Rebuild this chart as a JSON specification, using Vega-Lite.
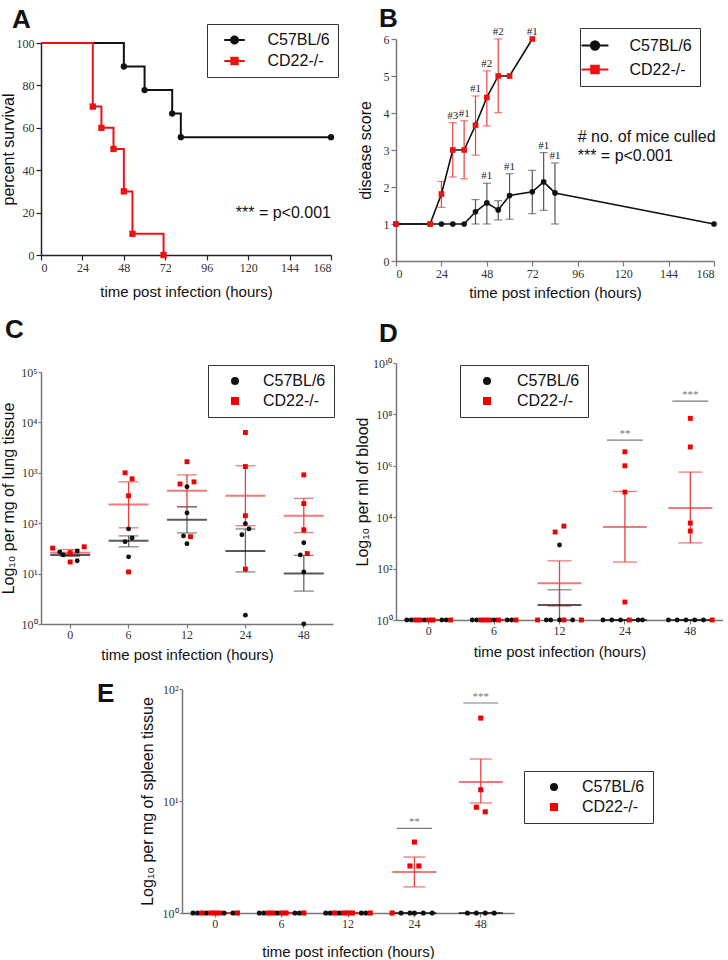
{
  "$schema": "https://vega.github.io/schema/vega-lite/v6.json",
  "background": "white",
  "padding": {"left": 0, "top": 6, "right": 0, "bottom": 0},
  "config": {
    "view": {"stroke": null},
    "axis": {"grid": false, "labelFont": "Liberation Serif", "labelFontSize": 12, "labelColor": "#333", "titleFont": "Liberation Sans", "titleFontWeight": "normal", "titleFontSize": 15, "titleColor": "#111", "domainColor": "#777", "tickColor": "#777", "domainWidth": 1.5, "tickWidth": 1.2},
    "title": {"font": "Liberation Sans", "fontSize": 26, "fontWeight": "bold", "anchor": "start", "frame": "group", "color": "#111", "offset": 0, "baseline": "alphabetic"}
  },
  "datasets": {
    "survival": [
      {"strain": "C57BL/6", "t": 0, "pct": 100},
      {"strain": "C57BL/6", "t": 48, "pct": 88.9},
      {"strain": "C57BL/6", "t": 60, "pct": 77.8},
      {"strain": "C57BL/6", "t": 76, "pct": 66.7},
      {"strain": "C57BL/6", "t": 81, "pct": 55.6},
      {"strain": "C57BL/6", "t": 168, "pct": 55.6},
      {"strain": "CD22-/-", "t": 0, "pct": 100},
      {"strain": "CD22-/-", "t": 30, "pct": 70},
      {"strain": "CD22-/-", "t": 35, "pct": 60},
      {"strain": "CD22-/-", "t": 42, "pct": 50},
      {"strain": "CD22-/-", "t": 48, "pct": 30},
      {"strain": "CD22-/-", "t": 53, "pct": 10},
      {"strain": "CD22-/-", "t": 71, "pct": 0}
    ],
    "survivalNote": [
      {"note": "*** = p<0.001", "t": 168, "pct": 20}
    ],
    "score": [
      {"strain": "C57BL/6", "t": 0, "score": 1},
      {"strain": "C57BL/6", "t": 18, "score": 1},
      {"strain": "C57BL/6", "t": 24, "score": 1},
      {"strain": "C57BL/6", "t": 30, "score": 1},
      {"strain": "C57BL/6", "t": 36, "score": 1},
      {"strain": "C57BL/6", "t": 42, "score": 1.33, "lo": 1.0, "hi": 1.66},
      {"strain": "C57BL/6", "t": 48, "score": 1.57, "lo": 1.0, "hi": 2.1},
      {"strain": "C57BL/6", "t": 54, "score": 1.38, "lo": 1.11, "hi": 1.63},
      {"strain": "C57BL/6", "t": 60, "score": 1.77, "lo": 1.13, "hi": 2.36},
      {"strain": "C57BL/6", "t": 72, "score": 1.87, "lo": 1.28, "hi": 2.45},
      {"strain": "C57BL/6", "t": 78, "score": 2.14, "lo": 1.37, "hi": 2.93},
      {"strain": "C57BL/6", "t": 84, "score": 1.84, "lo": 1.0, "hi": 2.65},
      {"strain": "C57BL/6", "t": 168, "score": 1},
      {"strain": "CD22-/-", "t": 0, "score": 1},
      {"strain": "CD22-/-", "t": 18, "score": 1},
      {"strain": "CD22-/-", "t": 24, "score": 1.81, "lo": 1.45, "hi": 2.15},
      {"strain": "CD22-/-", "t": 30, "score": 3.0, "lo": 2.27, "hi": 3.74},
      {"strain": "CD22-/-", "t": 36, "score": 3.0, "lo": 2.22, "hi": 3.79},
      {"strain": "CD22-/-", "t": 42, "score": 3.67, "lo": 2.86, "hi": 4.46},
      {"strain": "CD22-/-", "t": 48, "score": 4.42, "lo": 3.65, "hi": 5.14},
      {"strain": "CD22-/-", "t": 54, "score": 5.0, "lo": 4.01, "hi": 6.0},
      {"strain": "CD22-/-", "t": 60, "score": 5.0},
      {"strain": "CD22-/-", "t": 72, "score": 6.0}
    ],
    "scoreNotes": [
      {"note": "# no. of mice culled", "t": 96, "score": 3.34},
      {"note": "*** = p<0.001", "t": 96, "score": 2.83}
    ],
    "culled": [
      {"strain": "CD22-/-", "t": 30, "top": 3.74, "label": "#3"},
      {"strain": "CD22-/-", "t": 36, "top": 3.79, "label": "#1"},
      {"strain": "CD22-/-", "t": 42, "top": 4.46, "label": "#1"},
      {"strain": "CD22-/-", "t": 48, "top": 5.14, "label": "#2"},
      {"strain": "CD22-/-", "t": 54, "top": 6.0, "label": "#2"},
      {"strain": "CD22-/-", "t": 72, "top": 6.0, "label": "#1"},
      {"strain": "C57BL/6", "t": 48, "top": 2.1, "label": "#1"},
      {"strain": "C57BL/6", "t": 60, "top": 2.36, "label": "#1"},
      {"strain": "C57BL/6", "t": 78, "top": 2.93, "label": "#1"},
      {"strain": "C57BL/6", "t": 84, "top": 2.65, "label": "#1"}
    ],
    "lung": [
      {"strain": "C57BL/6", "t": 0, "slot": -3, "v": 27},
      {"strain": "C57BL/6", "t": 0, "slot": -2, "v": 23.5},
      {"strain": "C57BL/6", "t": 0, "slot": 2, "v": 28},
      {"strain": "C57BL/6", "t": 0, "slot": 2, "v": 18},
      {"strain": "C57BL/6", "t": 6, "slot": 0, "v": 77},
      {"strain": "C57BL/6", "t": 6, "slot": -1, "v": 43},
      {"strain": "C57BL/6", "t": 6, "slot": 1, "v": 51},
      {"strain": "C57BL/6", "t": 6, "slot": 0, "v": 21.5},
      {"strain": "C57BL/6", "t": 12, "slot": 0, "v": 530},
      {"strain": "C57BL/6", "t": 12, "slot": 0, "v": 160},
      {"strain": "C57BL/6", "t": 12, "slot": -1, "v": 56},
      {"strain": "C57BL/6", "t": 12, "slot": 0, "v": 39},
      {"strain": "C57BL/6", "t": 24, "slot": 0, "v": 98},
      {"strain": "C57BL/6", "t": 24, "slot": -1, "v": 59},
      {"strain": "C57BL/6", "t": 24, "slot": 1, "v": 77},
      {"strain": "C57BL/6", "t": 24, "slot": 0, "v": 1.5},
      {"strain": "C57BL/6", "t": 48, "slot": 0, "v": 41},
      {"strain": "C57BL/6", "t": 48, "slot": -1, "v": 23.5},
      {"strain": "C57BL/6", "t": 48, "slot": 0, "v": 10.8},
      {"strain": "C57BL/6", "t": 48, "slot": 0, "v": 1},
      {"strain": "CD22-/-", "t": 0, "slot": -5, "v": 32},
      {"strain": "CD22-/-", "t": 0, "slot": 4, "v": 34},
      {"strain": "CD22-/-", "t": 0, "slot": 0, "v": 17},
      {"strain": "CD22-/-", "t": 0, "slot": 0, "v": 26},
      {"strain": "CD22-/-", "t": 6, "slot": -1, "v": 1000},
      {"strain": "CD22-/-", "t": 6, "slot": 1, "v": 760},
      {"strain": "CD22-/-", "t": 6, "slot": 0, "v": 350},
      {"strain": "CD22-/-", "t": 6, "slot": 0, "v": 10.8},
      {"strain": "CD22-/-", "t": 12, "slot": 0, "v": 1660},
      {"strain": "CD22-/-", "t": 12, "slot": -2, "v": 600},
      {"strain": "CD22-/-", "t": 12, "slot": 2, "v": 660},
      {"strain": "CD22-/-", "t": 12, "slot": 1, "v": 54},
      {"strain": "CD22-/-", "t": 24, "slot": 0, "v": 6300},
      {"strain": "CD22-/-", "t": 24, "slot": 0, "v": 1330},
      {"strain": "CD22-/-", "t": 24, "slot": 0, "v": 141},
      {"strain": "CD22-/-", "t": 24, "slot": 0, "v": 12.3},
      {"strain": "CD22-/-", "t": 48, "slot": 0, "v": 910},
      {"strain": "CD22-/-", "t": 48, "slot": 0, "v": 245},
      {"strain": "CD22-/-", "t": 48, "slot": 0, "v": 74},
      {"strain": "CD22-/-", "t": 48, "slot": 1, "v": 25}
    ],
    "lungStats": [
      {"strain": "C57BL/6", "t": 0, "mean": 23.5, "lo": 22, "hi": 25.5},
      {"strain": "C57BL/6", "t": 6, "mean": 45, "lo": 34, "hi": 56},
      {"strain": "C57BL/6", "t": 12, "mean": 117, "lo": 64, "hi": 213},
      {"strain": "C57BL/6", "t": 24, "mean": 28, "lo": 10.8, "hi": 77},
      {"strain": "C57BL/6", "t": 48, "mean": 10, "lo": 4.5, "hi": 23},
      {"strain": "CD22-/-", "t": 0, "mean": 26, "lo": 23, "hi": 30},
      {"strain": "CD22-/-", "t": 6, "mean": 234, "lo": 81, "hi": 660},
      {"strain": "CD22-/-", "t": 12, "mean": 440, "lo": 210, "hi": 910},
      {"strain": "CD22-/-", "t": 24, "mean": 350, "lo": 89, "hi": 1380},
      {"strain": "CD22-/-", "t": 48, "mean": 141, "lo": 65, "hi": 310}
    ],
    "blood": [
      {"strain": "C57BL/6", "t": 0, "slot": -5, "v": 1},
      {"strain": "C57BL/6", "t": 0, "slot": -4, "v": 1},
      {"strain": "C57BL/6", "t": 0, "slot": -1, "v": 1},
      {"strain": "C57BL/6", "t": 0, "slot": 3, "v": 1},
      {"strain": "C57BL/6", "t": 0, "slot": 4, "v": 1},
      {"strain": "C57BL/6", "t": 6, "slot": -5, "v": 1},
      {"strain": "C57BL/6", "t": 6, "slot": -4, "v": 1},
      {"strain": "C57BL/6", "t": 6, "slot": 0, "v": 1},
      {"strain": "C57BL/6", "t": 6, "slot": 3, "v": 1},
      {"strain": "C57BL/6", "t": 6, "slot": 4, "v": 1},
      {"strain": "C57BL/6", "t": 12, "slot": -3, "v": 1},
      {"strain": "C57BL/6", "t": 12, "slot": -2, "v": 1},
      {"strain": "C57BL/6", "t": 12, "slot": 0, "v": 1},
      {"strain": "C57BL/6", "t": 12, "slot": 3, "v": 1},
      {"strain": "C57BL/6", "t": 12, "slot": 0, "v": 830},
      {"strain": "C57BL/6", "t": 24, "slot": -5, "v": 1},
      {"strain": "C57BL/6", "t": 24, "slot": -3, "v": 1},
      {"strain": "C57BL/6", "t": 24, "slot": -1, "v": 1},
      {"strain": "C57BL/6", "t": 24, "slot": 3, "v": 1},
      {"strain": "C57BL/6", "t": 24, "slot": 4, "v": 1},
      {"strain": "C57BL/6", "t": 48, "slot": -5, "v": 1},
      {"strain": "C57BL/6", "t": 48, "slot": -3, "v": 1},
      {"strain": "C57BL/6", "t": 48, "slot": -1, "v": 1},
      {"strain": "C57BL/6", "t": 48, "slot": 1, "v": 1},
      {"strain": "C57BL/6", "t": 48, "slot": 3, "v": 1},
      {"strain": "CD22-/-", "t": 0, "slot": -3, "v": 1},
      {"strain": "CD22-/-", "t": 0, "slot": -2, "v": 1},
      {"strain": "CD22-/-", "t": 0, "slot": 0, "v": 1},
      {"strain": "CD22-/-", "t": 0, "slot": 1, "v": 1},
      {"strain": "CD22-/-", "t": 0, "slot": 5, "v": 1},
      {"strain": "CD22-/-", "t": 6, "slot": -3, "v": 1},
      {"strain": "CD22-/-", "t": 6, "slot": -2, "v": 1},
      {"strain": "CD22-/-", "t": 6, "slot": -1, "v": 1},
      {"strain": "CD22-/-", "t": 6, "slot": 1, "v": 1},
      {"strain": "CD22-/-", "t": 6, "slot": 5, "v": 1},
      {"strain": "CD22-/-", "t": 12, "slot": -5, "v": 1},
      {"strain": "CD22-/-", "t": 12, "slot": 1, "v": 1},
      {"strain": "CD22-/-", "t": 12, "slot": 5, "v": 1},
      {"strain": "CD22-/-", "t": 12, "slot": -1, "v": 2650},
      {"strain": "CD22-/-", "t": 12, "slot": 1, "v": 4500},
      {"strain": "CD22-/-", "t": 24, "slot": 1, "v": 1},
      {"strain": "CD22-/-", "t": 24, "slot": 0, "v": 3500000},
      {"strain": "CD22-/-", "t": 24, "slot": 0, "v": 1000000},
      {"strain": "CD22-/-", "t": 24, "slot": 0, "v": 95000},
      {"strain": "CD22-/-", "t": 24, "slot": 0, "v": 5},
      {"strain": "CD22-/-", "t": 48, "slot": 5, "v": 1},
      {"strain": "CD22-/-", "t": 48, "slot": 0, "v": 70000000},
      {"strain": "CD22-/-", "t": 48, "slot": 0, "v": 5400000},
      {"strain": "CD22-/-", "t": 48, "slot": 0, "v": 5900},
      {"strain": "CD22-/-", "t": 48, "slot": 0, "v": 2900}
    ],
    "bloodStats": [
      {"strain": "C57BL/6", "t": 0, "mean": 1, "lo": 1, "hi": 1},
      {"strain": "C57BL/6", "t": 6, "mean": 1, "lo": 1, "hi": 1},
      {"strain": "C57BL/6", "t": 12, "mean": 3.8, "lo": 1, "hi": 15},
      {"strain": "C57BL/6", "t": 24, "mean": 1, "lo": 1, "hi": 1},
      {"strain": "C57BL/6", "t": 48, "mean": 1, "lo": 1, "hi": 1},
      {"strain": "CD22-/-", "t": 0, "mean": 1, "lo": 1, "hi": 1},
      {"strain": "CD22-/-", "t": 6, "mean": 1, "lo": 1, "hi": 1},
      {"strain": "CD22-/-", "t": 12, "mean": 27, "lo": 3.5, "hi": 200},
      {"strain": "CD22-/-", "t": 24, "mean": 4200, "lo": 180, "hi": 100000},
      {"strain": "CD22-/-", "t": 48, "mean": 23000, "lo": 1000, "hi": 570000}
    ],
    "bloodSig": [
      {"t": 24, "v": 10000000, "stars": "**"},
      {"t": 48, "v": 330000000, "stars": "***"}
    ],
    "spleen": [
      {"strain": "C57BL/6", "t": 0, "slot": -5, "v": 1},
      {"strain": "C57BL/6", "t": 0, "slot": -4, "v": 1},
      {"strain": "C57BL/6", "t": 0, "slot": -2, "v": 1},
      {"strain": "C57BL/6", "t": 0, "slot": 2, "v": 1},
      {"strain": "C57BL/6", "t": 0, "slot": 4, "v": 1},
      {"strain": "C57BL/6", "t": 6, "slot": -5, "v": 1},
      {"strain": "C57BL/6", "t": 6, "slot": -4, "v": 1},
      {"strain": "C57BL/6", "t": 6, "slot": -1, "v": 1},
      {"strain": "C57BL/6", "t": 6, "slot": 3, "v": 1},
      {"strain": "C57BL/6", "t": 6, "slot": 4, "v": 1},
      {"strain": "C57BL/6", "t": 12, "slot": -5, "v": 1},
      {"strain": "C57BL/6", "t": 12, "slot": -4, "v": 1},
      {"strain": "C57BL/6", "t": 12, "slot": -2, "v": 1},
      {"strain": "C57BL/6", "t": 12, "slot": 3, "v": 1},
      {"strain": "C57BL/6", "t": 12, "slot": 4, "v": 1},
      {"strain": "C57BL/6", "t": 24, "slot": -3, "v": 1},
      {"strain": "C57BL/6", "t": 24, "slot": -1, "v": 1},
      {"strain": "C57BL/6", "t": 24, "slot": 0, "v": 1},
      {"strain": "C57BL/6", "t": 24, "slot": 2, "v": 1},
      {"strain": "C57BL/6", "t": 24, "slot": 4, "v": 1},
      {"strain": "C57BL/6", "t": 48, "slot": -3, "v": 1},
      {"strain": "C57BL/6", "t": 48, "slot": -1, "v": 1},
      {"strain": "C57BL/6", "t": 48, "slot": 1, "v": 1},
      {"strain": "C57BL/6", "t": 48, "slot": 3, "v": 1},
      {"strain": "CD22-/-", "t": 0, "slot": -3, "v": 1},
      {"strain": "CD22-/-", "t": 0, "slot": -1, "v": 1},
      {"strain": "CD22-/-", "t": 0, "slot": 0, "v": 1},
      {"strain": "CD22-/-", "t": 0, "slot": 1, "v": 1},
      {"strain": "CD22-/-", "t": 0, "slot": 5, "v": 1},
      {"strain": "CD22-/-", "t": 6, "slot": -3, "v": 1},
      {"strain": "CD22-/-", "t": 6, "slot": -2, "v": 1},
      {"strain": "CD22-/-", "t": 6, "slot": 0, "v": 1},
      {"strain": "CD22-/-", "t": 6, "slot": 1, "v": 1},
      {"strain": "CD22-/-", "t": 6, "slot": 5, "v": 1},
      {"strain": "CD22-/-", "t": 12, "slot": -3, "v": 1},
      {"strain": "CD22-/-", "t": 12, "slot": -1, "v": 1},
      {"strain": "CD22-/-", "t": 12, "slot": 0, "v": 1},
      {"strain": "CD22-/-", "t": 12, "slot": 1, "v": 1},
      {"strain": "CD22-/-", "t": 12, "slot": 5, "v": 1},
      {"strain": "CD22-/-", "t": 24, "slot": -5, "v": 1},
      {"strain": "CD22-/-", "t": 24, "slot": 0, "v": 4.3},
      {"strain": "CD22-/-", "t": 24, "slot": -1, "v": 2.63},
      {"strain": "CD22-/-", "t": 24, "slot": 1, "v": 2.63},
      {"strain": "CD22-/-", "t": 48, "slot": 0, "v": 55},
      {"strain": "CD22-/-", "t": 48, "slot": 0, "v": 12.6},
      {"strain": "CD22-/-", "t": 48, "slot": -1, "v": 8.8},
      {"strain": "CD22-/-", "t": 48, "slot": 1, "v": 8.0}
    ],
    "spleenStats": [
      {"strain": "C57BL/6", "t": 0, "mean": 1, "lo": 1, "hi": 1},
      {"strain": "C57BL/6", "t": 6, "mean": 1, "lo": 1, "hi": 1},
      {"strain": "C57BL/6", "t": 12, "mean": 1, "lo": 1, "hi": 1},
      {"strain": "C57BL/6", "t": 24, "mean": 1, "lo": 1, "hi": 1},
      {"strain": "C57BL/6", "t": 48, "mean": 1, "lo": 1, "hi": 1},
      {"strain": "CD22-/-", "t": 0, "mean": 1, "lo": 1, "hi": 1},
      {"strain": "CD22-/-", "t": 6, "mean": 1, "lo": 1, "hi": 1},
      {"strain": "CD22-/-", "t": 12, "mean": 1, "lo": 1, "hi": 1},
      {"strain": "CD22-/-", "t": 24, "mean": 2.32, "lo": 1.71, "hi": 3.16},
      {"strain": "CD22-/-", "t": 48, "mean": 14.8, "lo": 9.6, "hi": 23.7}
    ],
    "spleenSig": [
      {"t": 24, "v": 5.7, "stars": "**"},
      {"t": 48, "v": 75, "stars": "***"}
    ]
  },
  "columns": 2,
  "align": {"row": "each", "column": "each"},
  "bounds": "flush",
  "spacing": {"row": 65, "column": 63},
  "resolve": {"scale": {"color": "independent", "shape": "independent", "stroke": "independent", "xOffset": "independent", "x": "independent", "y": "independent"}, "legend": {"color": "independent", "shape": "independent", "stroke": "independent"}},
  "concat": [
    {
      "width": 290, "height": 216,
      "title": {"text": "A", "dx": -29, "dy": 13},
      "data": {"name": "survival"},
      "resolve": {"scale": {"color": "independent", "shape": "independent", "stroke": "independent"}},
      "encoding": {
        "x": {"field": "t", "type": "quantitative", "scale": {"domain": [0, 168], "nice": false, "zero": false}, "axis": {"values": [0, 24, 48, 72, 96, 120, 144, 168], "title": "time post infection (hours)", "domainColor": "#222", "tickColor": "#222", "tickSize": 5, "labelPadding": 2, "titleY": 29}},
        "y": {"field": "pct", "type": "quantitative", "scale": {"domain": [0, 100], "nice": false, "range": [216, 4]}, "axis": {"values": [0, 20, 40, 60, 80, 100], "title": "percent survival", "titleFontSize": 16, "domainColor": "#222", "tickColor": "#222", "tickSize": 5, "labelPadding": 2, "titlePadding": 0}}
      },
      "layer": [
        {
          "mark": {"type": "line", "interpolate": "step-after", "strokeWidth": 2},
          "encoding": {"color": {"field": "strain", "type": "nominal", "scale": {"domain": ["C57BL/6", "CD22-/-"], "range": ["#111111", "#ee1111"]}, "legend": null}}
        },
        {
          "transform": [{"filter": "datum.t > 0"}],
          "mark": {"type": "point", "filled": true, "opacity": 1, "size": 40},
          "encoding": {
            "color": {"field": "strain", "type": "nominal", "scale": {"domain": ["C57BL/6", "CD22-/-"], "range": ["#111111", "#ee1111"]}, "legend": null},
            "shape": {"field": "strain", "type": "nominal", "scale": {"domain": ["C57BL/6", "CD22-/-"], "range": ["circle", "square"]}, "legend": null}
          }
        },
        {
          "transform": [{"filter": "false"}],
          "mark": {"type": "point", "filled": true},
          "encoding": {
            "color": {"field": "strain", "type": "nominal", "scale": {"domain": ["C57BL/6", "CD22-/-"], "range": ["#111111", "#ee1111"]}, "legend": {"title": null, "orient": "none", "legendX": 166, "legendY": -15, "padding": 8, "strokeColor": "#333", "fillColor": "white", "symbolSize": 164, "symbolStrokeWidth": 2, "symbolOffset": 11.5, "labelOffset": 25, "rowPadding": 5, "labelFontSize": 16, "labelFont": "Liberation Sans", "labelColor": "#111", "symbolOpacity": 1}},
            "stroke": {"field": "strain", "type": "nominal", "scale": {"domain": ["C57BL/6", "CD22-/-"], "range": ["#111111", "#ee1111"]}, "legend": {"title": null, "orient": "none", "legendX": 166, "legendY": -15, "padding": 8, "strokeColor": "#333", "fillColor": "white", "symbolSize": 164, "symbolStrokeWidth": 2, "symbolOffset": 11.5, "labelOffset": 25, "rowPadding": 5, "labelFontSize": 16, "labelFont": "Liberation Sans", "labelColor": "#111", "symbolOpacity": 1}},
            "shape": {"field": "strain", "type": "nominal", "scale": {"domain": ["C57BL/6", "CD22-/-"], "range": ["M-1.6,0L1.6,0M0.55,0A0.55,0.55,0,1,1,-0.55,0A0.55,0.55,0,1,1,0.55,0Z", "M-1.6,0L1.6,0M-0.5,-0.5L0.5,-0.5L0.5,0.5L-0.5,0.5Z"]}, "legend": {"title": null, "orient": "none", "legendX": 166, "legendY": -15, "padding": 8, "strokeColor": "#333", "fillColor": "white", "symbolSize": 164, "symbolStrokeWidth": 2, "symbolOffset": 11.5, "labelOffset": 25, "rowPadding": 5, "labelFontSize": 16, "labelFont": "Liberation Sans", "labelColor": "#111", "symbolOpacity": 1}}
          }
        },
        {
          "data": {"name": "survivalNote"},
          "mark": {"type": "text", "align": "right", "baseline": "middle", "font": "Liberation Sans", "fontSize": 16, "color": "#111"},
          "encoding": {"text": {"field": "note"}}
        }
      ]
    },
    {
      "width": 318, "height": 222,
      "title": {"text": "B", "dx": -17, "dy": 10},
      "data": {"name": "score"},
      "resolve": {"scale": {"color": "independent", "shape": "independent", "stroke": "independent"}},
      "encoding": {
        "x": {"field": "t", "type": "quantitative", "scale": {"domain": [0, 168], "nice": false, "zero": false}, "axis": {"values": [0, 24, 48, 72, 96, 120, 144, 168], "title": "time post infection (hours)", "tickSize": 5, "labelPadding": 2, "titleY": 24}},
        "y": {"field": "score", "type": "quantitative", "scale": {"domain": [0, 6], "nice": false}, "axis": {"values": [0, 1, 2, 3, 4, 5, 6], "title": "disease score", "titleFontSize": 16, "tickSize": 5, "labelPadding": 2, "titlePadding": 10}}
      },
      "layer": [
        {
          "mark": {"type": "rule", "strokeWidth": 1.2},
          "encoding": {"y": {"field": "lo", "type": "quantitative"}, "y2": {"field": "hi"}, "color": {"condition": {"test": "datum.strain === 'CD22-/-'", "value": "#e8423f"}, "value": "#555555"}}
        },
        {
          "mark": {"type": "tick", "orient": "horizontal", "size": 8, "thickness": 1.2},
          "encoding": {"y": {"field": "lo", "type": "quantitative"}, "color": {"condition": {"test": "datum.strain === 'CD22-/-'", "value": "#e8423f"}, "value": "#555555"}}
        },
        {
          "mark": {"type": "tick", "orient": "horizontal", "size": 8, "thickness": 1.2},
          "encoding": {"y": {"field": "hi", "type": "quantitative"}, "color": {"condition": {"test": "datum.strain === 'CD22-/-'", "value": "#e8423f"}, "value": "#555555"}}
        },
        {
          "mark": {"type": "line", "strokeWidth": 1.6, "color": "#111111"},
          "encoding": {"detail": {"field": "strain", "type": "nominal"}}
        },
        {
          "mark": {"type": "point", "filled": true, "opacity": 1, "size": 32},
          "encoding": {
            "color": {"field": "strain", "type": "nominal", "scale": {"domain": ["C57BL/6", "CD22-/-"], "range": ["#111111", "#ee1111"]}, "legend": null},
            "shape": {"field": "strain", "type": "nominal", "scale": {"domain": ["C57BL/6", "CD22-/-"], "range": ["circle", "square"]}, "legend": null}
          }
        },
        {
          "transform": [{"filter": "false"}],
          "mark": {"type": "point", "filled": true},
          "encoding": {
            "color": {"field": "strain", "type": "nominal", "scale": {"domain": ["C57BL/6", "CD22-/-"], "range": ["#111111", "#ee1111"]}, "legend": {"title": null, "orient": "none", "legendX": 184, "legendY": -11, "padding": 8, "strokeColor": "#333", "fillColor": "white", "symbolSize": 282, "symbolStrokeWidth": 2, "symbolOffset": -2.5, "labelOffset": 25, "rowPadding": 6, "labelFontSize": 16, "labelFont": "Liberation Sans", "labelColor": "#111", "symbolOpacity": 1}},
            "stroke": {"field": "strain", "type": "nominal", "scale": {"domain": ["C57BL/6", "CD22-/-"], "range": ["#111111", "#ee1111"]}, "legend": {"title": null, "orient": "none", "legendX": 184, "legendY": -11, "padding": 8, "strokeColor": "#333", "fillColor": "white", "symbolSize": 282, "symbolStrokeWidth": 2, "symbolOffset": -2.5, "labelOffset": 25, "rowPadding": 6, "labelFontSize": 16, "labelFont": "Liberation Sans", "labelColor": "#111", "symbolOpacity": 1}},
            "shape": {"field": "strain", "type": "nominal", "scale": {"domain": ["C57BL/6", "CD22-/-"], "range": ["M-1.6,0L1.6,0M0.5,0A0.5,0.5,0,1,1,-0.5,0A0.5,0.5,0,1,1,0.5,0Z", "M-1.6,0L1.6,0M-0.45,-0.45L0.45,-0.45L0.45,0.45L-0.45,0.45Z"]}, "legend": {"title": null, "orient": "none", "legendX": 184, "legendY": -11, "padding": 8, "strokeColor": "#333", "fillColor": "white", "symbolSize": 282, "symbolStrokeWidth": 2, "symbolOffset": -2.5, "labelOffset": 25, "rowPadding": 6, "labelFontSize": 16, "labelFont": "Liberation Sans", "labelColor": "#111", "symbolOpacity": 1}}
          }
        },
        {
          "data": {"name": "culled"},
          "mark": {"type": "text", "baseline": "bottom", "dy": -2, "font": "Liberation Serif", "fontSize": 11, "color": "#222"},
          "encoding": {"y": {"field": "top", "type": "quantitative"}, "text": {"field": "label"}}
        },
        {
          "data": {"name": "scoreNotes"},
          "mark": {"type": "text", "align": "left", "baseline": "middle", "font": "Liberation Sans", "fontSize": 16, "color": "#111"},
          "encoding": {"text": {"field": "note"}}
        }
      ]
    },
    {
      "width": 292, "height": 298,
      "title": {"text": "C", "dx": -36, "dy": 21},
      "encoding": {
        "x": {"field": "t", "type": "ordinal", "scale": {"domain": [0, 6, 12, 24, 48], "paddingInner": 0.4, "paddingOuter": 0.2}, "axis": {"labelAngle": 0, "title": "time post infection (hours)", "tickSize": 4, "labelPadding": 1, "titleY": 23}},
        "y": {"field": "v", "type": "quantitative", "scale": {"type": "log", "domain": [1, 100000], "nice": false, "range": [298, 46]}, "axis": {"values": [1, 10, 100, 1000, 10000, 100000], "labelExpr": "'10' + ['⁰','¹','²','³','⁴','⁵','⁶','⁷','⁸','⁹','¹⁰'][round(log(datum.value)/LN10)]", "title": "Log₁₀ per mg of lung tissue", "titleFontSize": 16, "tickSize": 3, "labelPadding": 1, "titlePadding": 4}}
      },
      "layer": [
        {
          "data": {"name": "lungStats"},
          "mark": {"type": "rule", "strokeWidth": 1.3},
          "encoding": {"y": {"field": "lo", "type": "quantitative"}, "y2": {"field": "hi"}, "color": {"condition": {"test": "datum.strain === 'CD22-/-'", "value": "#e8423f"}, "value": "#666666"}}
        },
        {
          "data": {"name": "lungStats"},
          "mark": {"type": "tick", "orient": "horizontal", "size": 20, "thickness": 1.3},
          "encoding": {"y": {"field": "lo", "type": "quantitative"}, "color": {"condition": {"test": "datum.strain === 'CD22-/-'", "value": "#e8423f"}, "value": "#555555"}}
        },
        {
          "data": {"name": "lungStats"},
          "mark": {"type": "tick", "orient": "horizontal", "size": 20, "thickness": 1.3},
          "encoding": {"y": {"field": "hi", "type": "quantitative"}, "color": {"condition": {"test": "datum.strain === 'CD22-/-'", "value": "#e8423f"}, "value": "#555555"}}
        },
        {
          "data": {"name": "lungStats"},
          "mark": {"type": "tick", "orient": "horizontal", "size": 40, "thickness": 2},
          "encoding": {"y": {"field": "mean", "type": "quantitative"}, "color": {"condition": {"test": "datum.strain === 'CD22-/-'", "value": "#e8423f"}, "value": "#111111"}}
        },
        {
          "data": {"name": "lung"},
          "mark": {"type": "point", "filled": true, "opacity": 1, "size": 24},
          "encoding": {
            "xOffset": {"field": "slot", "type": "ordinal", "scale": {"domain": [-5, -4, -3, -2, -1, 0, 1, 2, 3, 4, 5], "paddingInner": 0, "paddingOuter": 0}},
            "color": {"field": "strain", "type": "nominal", "scale": {"domain": ["C57BL/6", "CD22-/-"], "range": ["#111111", "#ee0000"]}, "legend": {"title": null, "orient": "none", "legendX": 167, "legendY": 39, "padding": 8, "strokeColor": "#333", "fillColor": "white", "symbolSize": 64, "symbolStrokeWidth": 0, "symbolOffset": 11, "labelOffset": 20, "rowPadding": 4, "labelFontSize": 16, "labelFont": "Liberation Sans", "labelColor": "#111", "symbolOpacity": 1}},
            "shape": {"field": "strain", "type": "nominal", "scale": {"domain": ["C57BL/6", "CD22-/-"], "range": ["circle", "square"]}, "legend": {"title": null, "orient": "none", "legendX": 167, "legendY": 39, "padding": 8, "strokeColor": "#333", "fillColor": "white", "symbolSize": 64, "symbolStrokeWidth": 0, "symbolOffset": 11, "labelOffset": 20, "rowPadding": 4, "labelFontSize": 16, "labelFont": "Liberation Sans", "labelColor": "#111", "symbolOpacity": 1}}
          }
        }
      ]
    },
    {
      "width": 327, "height": 294,
      "title": {"text": "D", "dx": -17, "dy": 25},
      "encoding": {
        "x": {"field": "t", "type": "ordinal", "scale": {"domain": [0, 6, 12, 24, 48], "paddingInner": 0.33, "paddingOuter": 0.165}, "axis": {"labelAngle": 0, "title": "time post infection (hours)", "tickSize": 4, "labelPadding": 1, "titleY": 24}},
        "y": {"field": "v", "type": "quantitative", "scale": {"type": "log", "domain": [1, 10000000000], "nice": false, "range": [294, 37]}, "axis": {"values": [1, 100, 10000, 1000000, 100000000, 10000000000], "labelExpr": "'10' + ['⁰','¹','²','³','⁴','⁵','⁶','⁷','⁸','⁹','¹⁰'][round(log(datum.value)/LN10)]", "title": "Log₁₀ per ml of blood", "titleFontSize": 16, "tickSize": 3, "labelPadding": 1, "titlePadding": 2}}
      },
      "layer": [
        {
          "data": {"name": "bloodStats"},
          "mark": {"type": "rule", "strokeWidth": 1.3},
          "encoding": {"y": {"field": "lo", "type": "quantitative"}, "y2": {"field": "hi"}, "color": {"condition": {"test": "datum.strain === 'CD22-/-'", "value": "#e8423f"}, "value": "#666666"}}
        },
        {
          "data": {"name": "bloodStats"},
          "mark": {"type": "tick", "orient": "horizontal", "size": 24, "thickness": 1.3},
          "encoding": {"y": {"field": "lo", "type": "quantitative"}, "color": {"condition": {"test": "datum.strain === 'CD22-/-'", "value": "#e8423f"}, "value": "#555555"}}
        },
        {
          "data": {"name": "bloodStats"},
          "mark": {"type": "tick", "orient": "horizontal", "size": 24, "thickness": 1.3},
          "encoding": {"y": {"field": "hi", "type": "quantitative"}, "color": {"condition": {"test": "datum.strain === 'CD22-/-'", "value": "#e8423f"}, "value": "#555555"}}
        },
        {
          "data": {"name": "bloodStats"},
          "mark": {"type": "tick", "orient": "horizontal", "size": 44, "thickness": 2},
          "encoding": {"y": {"field": "mean", "type": "quantitative"}, "color": {"condition": {"test": "datum.strain === 'CD22-/-'", "value": "#e8423f"}, "value": "#111111"}}
        },
        {
          "data": {"name": "bloodSig"},
          "mark": {"type": "tick", "orient": "horizontal", "size": 36, "thickness": 1.2, "color": "#444"},
          "encoding": {"y": {"field": "v", "type": "quantitative"}}
        },
        {
          "data": {"name": "bloodSig"},
          "mark": {"type": "text", "baseline": "bottom", "dy": -1, "font": "Liberation Serif", "fontSize": 11, "color": "#777"},
          "encoding": {"y": {"field": "v", "type": "quantitative"}, "text": {"field": "stars"}}
        },
        {
          "data": {"name": "blood"},
          "mark": {"type": "point", "filled": true, "opacity": 1, "size": 24},
          "encoding": {
            "xOffset": {"field": "slot", "type": "ordinal", "scale": {"domain": [-5, -4, -3, -2, -1, 0, 1, 2, 3, 4, 5], "paddingInner": 0, "paddingOuter": 0}},
            "color": {"field": "strain", "type": "nominal", "scale": {"domain": ["C57BL/6", "CD22-/-"], "range": ["#111111", "#ee0000"]}, "legend": {"title": null, "orient": "none", "legendX": 64, "legendY": 39, "padding": 8, "strokeColor": "#333", "fillColor": "white", "symbolSize": 64, "symbolStrokeWidth": 0, "symbolOffset": 11, "labelOffset": 22, "rowPadding": 4, "labelFontSize": 16, "labelFont": "Liberation Sans", "labelColor": "#111", "symbolOpacity": 1}},
            "shape": {"field": "strain", "type": "nominal", "scale": {"domain": ["C57BL/6", "CD22-/-"], "range": ["circle", "square"]}, "legend": {"title": null, "orient": "none", "legendX": 64, "legendY": 39, "padding": 8, "strokeColor": "#333", "fillColor": "white", "symbolSize": 64, "symbolStrokeWidth": 0, "symbolOffset": 11, "labelOffset": 22, "rowPadding": 4, "labelFontSize": 16, "labelFont": "Liberation Sans", "labelColor": "#111", "symbolOpacity": 1}}
          }
        }
      ]
    },
    {
      "width": 290, "height": 224,
      "title": {"text": "E", "dx": 56, "dy": 28},
      "encoding": {
        "x": {"field": "t", "type": "ordinal", "scale": {"domain": [0, 6, 12, 24, 48], "paddingInner": 0.33, "paddingOuter": 0.165, "range": [141, 473]}, "axis": {"labelAngle": 0, "title": "time post infection (hours)", "tickSize": 4, "labelPadding": 1, "titleY": 31}},
        "y": {"field": "v", "type": "quantitative", "scale": {"type": "log", "domain": [1, 100], "nice": false}, "axis": {"offset": -141, "values": [1, 10, 100], "labelExpr": "'10' + ['⁰','¹','²','³','⁴','⁵','⁶','⁷','⁸','⁹','¹⁰'][round(log(datum.value)/LN10)]", "title": "Log₁₀ per mg of spleen tissue", "titleFontSize": 16, "tickSize": 3, "labelPadding": 1, "titlePadding": 7}}
      },
      "layer": [
        {
          "data": {"name": "spleenStats"},
          "mark": {"type": "rule", "strokeWidth": 1.3},
          "encoding": {"y": {"field": "lo", "type": "quantitative"}, "y2": {"field": "hi"}, "color": {"condition": {"test": "datum.strain === 'CD22-/-'", "value": "#e8423f"}, "value": "#666666"}}
        },
        {
          "data": {"name": "spleenStats"},
          "mark": {"type": "tick", "orient": "horizontal", "size": 22, "thickness": 1.3},
          "encoding": {"y": {"field": "lo", "type": "quantitative"}, "color": {"condition": {"test": "datum.strain === 'CD22-/-'", "value": "#e8423f"}, "value": "#555555"}}
        },
        {
          "data": {"name": "spleenStats"},
          "mark": {"type": "tick", "orient": "horizontal", "size": 22, "thickness": 1.3},
          "encoding": {"y": {"field": "hi", "type": "quantitative"}, "color": {"condition": {"test": "datum.strain === 'CD22-/-'", "value": "#e8423f"}, "value": "#555555"}}
        },
        {
          "data": {"name": "spleenStats"},
          "mark": {"type": "tick", "orient": "horizontal", "size": 44, "thickness": 2},
          "encoding": {"y": {"field": "mean", "type": "quantitative"}, "color": {"condition": {"test": "datum.strain === 'CD22-/-'", "value": "#e8423f"}, "value": "#111111"}}
        },
        {
          "data": {"name": "spleenSig"},
          "mark": {"type": "tick", "orient": "horizontal", "size": 35, "thickness": 1.2, "color": "#444"},
          "encoding": {"y": {"field": "v", "type": "quantitative"}}
        },
        {
          "data": {"name": "spleenSig"},
          "mark": {"type": "text", "baseline": "bottom", "dy": -1, "font": "Liberation Serif", "fontSize": 11, "color": "#777"},
          "encoding": {"y": {"field": "v", "type": "quantitative"}, "text": {"field": "stars"}}
        },
        {
          "data": {"name": "spleen"},
          "mark": {"type": "point", "filled": true, "opacity": 1, "size": 26},
          "encoding": {
            "xOffset": {"field": "slot", "type": "ordinal", "scale": {"domain": [-5, -4, -3, -2, -1, 0, 1, 2, 3, 4, 5], "paddingInner": 0, "paddingOuter": 0}},
            "color": {"field": "strain", "type": "nominal", "scale": {"domain": ["C57BL/6", "CD22-/-"], "range": ["#111111", "#ee0000"]}, "legend": {"title": null, "orient": "none", "legendX": 483, "legendY": 82, "padding": 8, "strokeColor": "#333", "fillColor": "white", "symbolSize": 64, "symbolStrokeWidth": 0, "symbolOffset": 14, "labelOffset": 20, "rowPadding": 4, "labelFontSize": 16, "labelFont": "Liberation Sans", "labelColor": "#111", "symbolOpacity": 1}},
            "shape": {"field": "strain", "type": "nominal", "scale": {"domain": ["C57BL/6", "CD22-/-"], "range": ["circle", "square"]}, "legend": {"title": null, "orient": "none", "legendX": 483, "legendY": 82, "padding": 8, "strokeColor": "#333", "fillColor": "white", "symbolSize": 64, "symbolStrokeWidth": 0, "symbolOffset": 14, "labelOffset": 20, "rowPadding": 4, "labelFontSize": 16, "labelFont": "Liberation Sans", "labelColor": "#111", "symbolOpacity": 1}}
          }
        }
      ]
    }
  ]
}
